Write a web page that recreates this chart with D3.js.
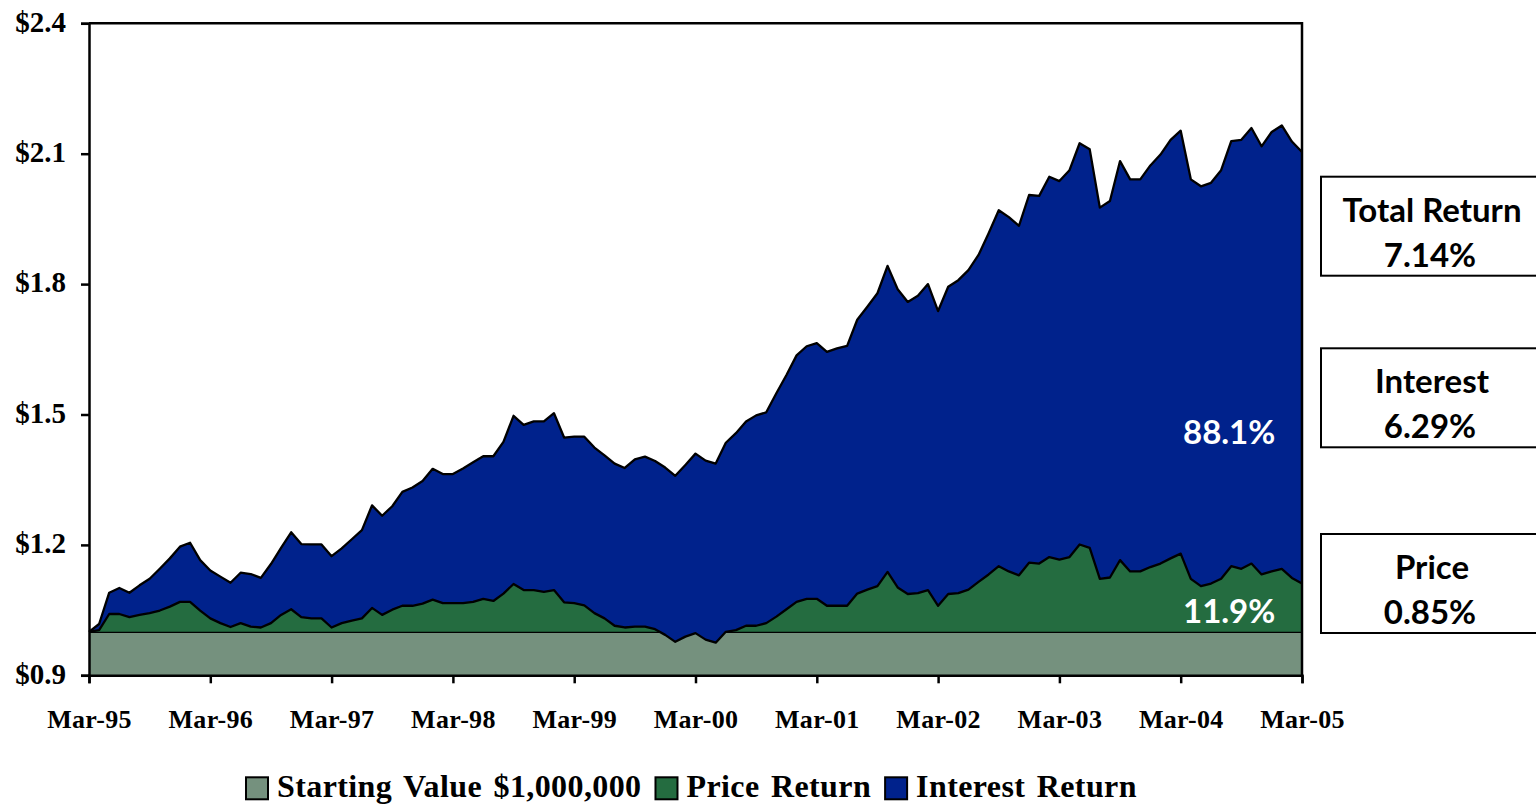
<!DOCTYPE html>
<html>
<head>
<meta charset="utf-8">
<script src="https://cdn.jsdelivr.net/npm/d3@7"></script>
<style>
  body { margin: 0; background: #fff; }
  svg { display: block; }
</style>
</head>
<body>
<div id="chart"></div>
<script>
// x tick labels (one per March)
const tickLabels = ["Mar-95","Mar-96","Mar-97","Mar-98","Mar-99","Mar-00","Mar-01","Mar-02","Mar-03","Mar-04","Mar-05"];
const yTicks = [0.9, 1.2, 1.5, 1.8, 2.1, 2.4];
const startValue = 1.0;

// monthly values, Mar-95 .. Mar-05 ($ millions)
const priceVals = [
  1.000,1.004,1.041,1.041,1.034,1.039,1.043,1.049,1.058,1.069,1.069,1.049,
  1.031,1.020,1.011,1.020,1.012,1.010,1.020,1.039,1.052,1.034,1.031,1.031,
  1.010,1.020,1.026,1.031,1.055,1.039,1.051,1.060,1.060,1.065,1.074,1.066,
  1.066,1.066,1.069,1.076,1.071,1.088,1.110,1.096,1.096,1.092,1.096,1.068,
  1.066,1.061,1.043,1.031,1.014,1.010,1.012,1.012,1.006,0.993,0.977,0.989,
  0.997,0.982,0.975,1.000,1.004,1.014,1.014,1.020,1.035,1.052,1.069,1.076,
  1.076,1.060,1.060,1.060,1.088,1.097,1.105,1.138,1.102,1.087,1.089,1.096,
  1.060,1.087,1.089,1.097,1.115,1.132,1.151,1.139,1.130,1.159,1.157,1.172,
  1.166,1.172,1.201,1.193,1.122,1.125,1.165,1.139,1.139,1.149,1.157,1.169,
  1.180,1.122,1.105,1.111,1.122,1.151,1.145,1.157,1.132,1.139,1.145,1.124,
  1.111
];
const totalVals = [
  1.000,1.018,1.090,1.101,1.090,1.107,1.122,1.145,1.169,1.196,1.205,1.165,
  1.141,1.127,1.113,1.136,1.133,1.124,1.156,1.193,1.229,1.202,1.201,1.201,
  1.174,1.192,1.213,1.234,1.291,1.267,1.289,1.322,1.332,1.347,1.375,1.363,
  1.363,1.376,1.390,1.404,1.404,1.437,1.497,1.476,1.484,1.484,1.503,1.447,
  1.449,1.449,1.424,1.406,1.387,1.377,1.397,1.403,1.393,1.378,1.359,1.384,
  1.410,1.394,1.387,1.435,1.457,1.484,1.498,1.505,1.549,1.591,1.636,1.657,
  1.664,1.644,1.652,1.658,1.718,1.748,1.779,1.842,1.788,1.759,1.773,1.800,
  1.738,1.794,1.809,1.832,1.867,1.917,1.970,1.954,1.934,2.005,2.003,2.047,
  2.037,2.062,2.124,2.110,1.976,1.991,2.083,2.041,2.041,2.073,2.098,2.132,
  2.153,2.041,2.025,2.033,2.062,2.129,2.132,2.159,2.117,2.150,2.165,2.128,
  2.104
];

const legendNames = ["Starting Value $1,000,000", "Price Return", "Interest Return"];
const boxTitles = ["Total Return", "Interest", "Price"];
const boxValues = ["7.14%", "6.29%", "0.85%"];
const shareLabels = ["88.1%", "11.9%"];

const colors = { start: "#75917e", price: "#246c40", interest: "#00228c" };
const serif = "'Liberation Serif', 'Times New Roman', serif";
const sans = "Lato, 'Open Sans', sans-serif";

const width = 1536, height = 806;
const plotLeft = 89, plotRight = 1302, plotTop = 23.3, plotBottom = 675.3;

const svg = d3.select("#chart").append("svg")
  .attr("width", width)
  .attr("height", height);

const x = d3.scaleLinear().domain([0, priceVals.length - 1]).range([plotLeft, plotRight]);
const y = d3.scaleLinear().domain([0.9, 2.4]).range([plotBottom, plotTop]);

const data = priceVals.map((p, i) => ({ i: i, price: p, total: totalVals[i] }));

// starting value block
svg.append("path")
  .datum(data)
  .attr("fill", colors.start)
  .attr("d", d3.area().x(d => x(d.i)).y0(y(0.9)).y1(y(startValue)));
svg.append("path")
  .datum(data)
  .attr("fill", "none")
  .attr("stroke", "#000")
  .attr("stroke-width", 2.3)
  .attr("d", d3.line().x(d => x(d.i)).y(y(startValue)));

// price return
svg.append("path")
  .datum(data)
  .attr("fill", colors.price)
  .attr("d", d3.area().x(d => x(d.i)).y0(y(startValue)).y1(d => y(d.price)));

// interest return on top of price
svg.append("path")
  .datum(data)
  .attr("fill", colors.interest)
  .attr("d", d3.area().x(d => x(d.i)).y0(d => y(d.price)).y1(d => y(d.total)));

["price", "total"].forEach(k => {
  svg.append("path")
    .datum(data)
    .attr("fill", "none")
    .attr("stroke", "#000")
    .attr("stroke-width", 2.3)
    .attr("stroke-linejoin", "round")
    .attr("d", d3.line().x(d => x(d.i)).y(d => y(d[k])));
});

// frame (top and right)
svg.append("path")
  .attr("d", `M${plotLeft},${plotTop}H${plotRight}V${plotBottom}`)
  .attr("fill", "none")
  .attr("stroke", "#000")
  .attr("stroke-width", 2.5);

// axes
const yAxis = svg.append("g")
  .attr("transform", `translate(${plotLeft},0)`)
  .call(d3.axisLeft(y).tickValues(yTicks).tickSize(8).tickPadding(15)
    .tickFormat(d => "$" + d3.format(".1f")(d)));
const xAxis = svg.append("g")
  .attr("transform", `translate(0,${plotBottom})`)
  .call(d3.axisBottom(x).tickValues(d3.range(0, priceVals.length, 12)).tickSize(8).tickPadding(26)
    .tickFormat((d, i) => tickLabels[i]));

[yAxis, xAxis].forEach(g => {
  g.selectAll("path, line").attr("stroke", "#000").attr("stroke-width", 2.5);
  g.selectAll("text").attr("fill", "#000").style("font-family", serif).style("font-weight", "bold");
});
yAxis.selectAll("text").style("font-size", "29px").attr("dy", "0.27em");
xAxis.selectAll("text").style("font-size", "26px").style("letter-spacing", "0.3px");

// share labels inside the areas
const shareY = [444.3, 623.3];
shareLabels.forEach((t, i) => {
  svg.append("text")
    .attr("x", 1183)
    .attr("y", shareY[i])
    .attr("fill", "#fff")
    .style("font-family", sans)
    .style("font-weight", "bold")
    .style("font-size", "33px")
    .text(t);
});

// summary boxes at right
const boxTop = [176.7, 348.3, 534];
boxTitles.forEach((t, i) => {
  const g = svg.append("g").attr("transform", `translate(1321,${boxTop[i]})`);
  g.append("rect")
    .attr("width", 240)
    .attr("height", 99)
    .attr("fill", "#fff")
    .attr("stroke", "#000")
    .attr("stroke-width", 2);
  g.append("text")
    .attr("x", 111).attr("y", 45)
    .attr("text-anchor", "middle")
    .style("font-family", sans).style("font-weight", "bold").style("font-size", "33px")
    .text(t);
  g.append("text")
    .attr("x", 109).attr("y", 90)
    .attr("text-anchor", "middle")
    .style("font-family", sans).style("font-weight", "bold").style("font-size", "33px")
    .text(boxValues[i]);
});

// legend
const legendColors = [colors.start, colors.price, colors.interest];
let lx = 246;
legendNames.forEach((name, i) => {
  svg.append("rect")
    .attr("x", lx).attr("y", 777.3)
    .attr("width", 22).attr("height", 22)
    .attr("fill", legendColors[i])
    .attr("stroke", "#000")
    .attr("stroke-width", 2);
  const t = svg.append("text")
    .attr("x", lx + 31).attr("y", 797.3)
    .style("font-family", serif).style("font-weight", "bold").style("font-size", "32px")
    .style("letter-spacing", "0.4px")
    .style("word-spacing", "3px")
    .text(name);
  lx += 31 + t.node().getComputedTextLength() + 14;
});
</script>
</body>
</html>
